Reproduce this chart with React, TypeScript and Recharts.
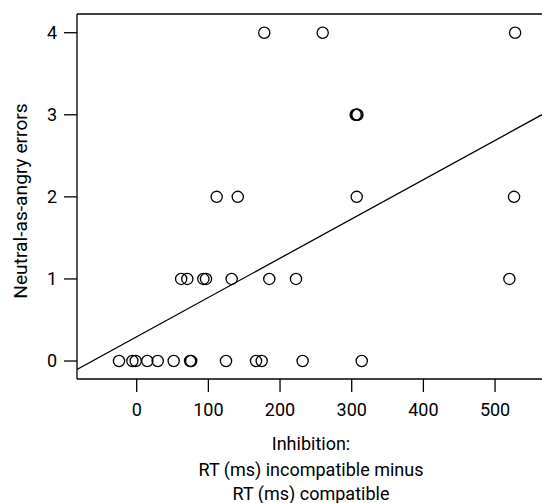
import React from "react";
import {
  ScatterChart,
  Scatter,
  XAxis,
  YAxis,
  ReferenceLine,
} from "recharts";

// inhibition score (ms) and neutral-as-angry error count, one entry per subject
const inhibition = [
  178, 259.5, 528,
  305.5, 307, 308,
  111.6, 141, 307, 526.5,
  62, 70.6, 93, 96.7, 132.5, 185, 222.3, 520,
  -24.7, -6, -1.4, 14.8, 29.3, 51.6, 74.5, 76, 124.6, 166.5, 174.4, 231.5, 314,
];
const errors = [
  4, 4, 4,
  3, 3, 3,
  2, 2, 2, 2,
  1, 1, 1, 1, 1, 1, 1, 1,
  0, 0, 0, 0, 0, 0, 0, 0, 0, 0, 0, 0, 0,
];

const xTicks = [0, 100, 200, 300, 400, 500];
const yTicks = [0, 1, 2, 3, 4];
const xDomain: [number, number] = [-83.3, 565.5];
const yDomain: [number, number] = [-0.219, 4.228];

// fitted regression line
const fitIntercept = 0.296;
const fitSlope = 0.004784;

const FONT = "Roboto, 'Liberation Sans', sans-serif";

const points = inhibition.map((x, i) => ({ x, y: errors[i] }));

const Ring = (props: any) => (
  <circle
    cx={props.cx}
    cy={props.cy}
    r={5.6}
    fill="none"
    stroke="#000"
    strokeWidth={1.3}
  />
);

export default function App() {
  const fitLine = [
    { x: xDomain[0], y: fitIntercept + fitSlope * xDomain[0] },
    { x: xDomain[1], y: fitIntercept + fitSlope * xDomain[1] },
  ];

  return (
    <div style={{ position: "absolute", left: 0, top: 0, background: "#fff" }}>
      <ScatterChart
        width={542}
        height={503}
        margin={{ top: 14, right: 0, left: 0, bottom: 0 }}
      >
        <XAxis
          type="number"
          dataKey="x"
          domain={xDomain}
          ticks={xTicks}
          allowDataOverflow
          height={124}
          tickSize={13}
          tickMargin={11}
          stroke="#000"
          strokeWidth={1.3}
          tick={{ fill: "#000", fontSize: 18, fontFamily: FONT }}
          label={{
            content: () => (
              <text
                textAnchor="middle"
                fontSize={18}
                fontFamily={FONT}
                fill="#000"
              >
                <tspan x={311} y={450}>Inhibition:</tspan>
                <tspan x={311} y={476}>RT (ms) incompatible minus</tspan>
                <tspan x={311} y={500}>RT (ms) compatible</tspan>
              </text>
            ),
          }}
        />
        <YAxis
          type="number"
          dataKey="y"
          domain={yDomain}
          ticks={yTicks}
          allowDataOverflow
          width={77}
          tickSize={13}
          tickMargin={7}
          stroke="#000"
          strokeWidth={1.3}
          tick={{ fill: "#000", fontSize: 18, fontFamily: FONT }}
          label={{
            content: () => (
              <text
                x={27}
                y={201}
                transform="rotate(-90 27 201)"
                textAnchor="middle"
                fontSize={19.2}
                fontFamily={FONT}
                fill="#000"
              >
                Neutral-as-angry errors
              </text>
            ),
          }}
        />
        <ReferenceLine y={yDomain[1]} stroke="#000" strokeWidth={1.3} />
        <ReferenceLine
          segment={fitLine}
          stroke="#000"
          strokeWidth={1.3}
          ifOverflow="hidden"
        />
        <Scatter
          data={points}
          shape={<Ring />}
          isAnimationActive={false}
        />
      </ScatterChart>
    </div>
  );
}
